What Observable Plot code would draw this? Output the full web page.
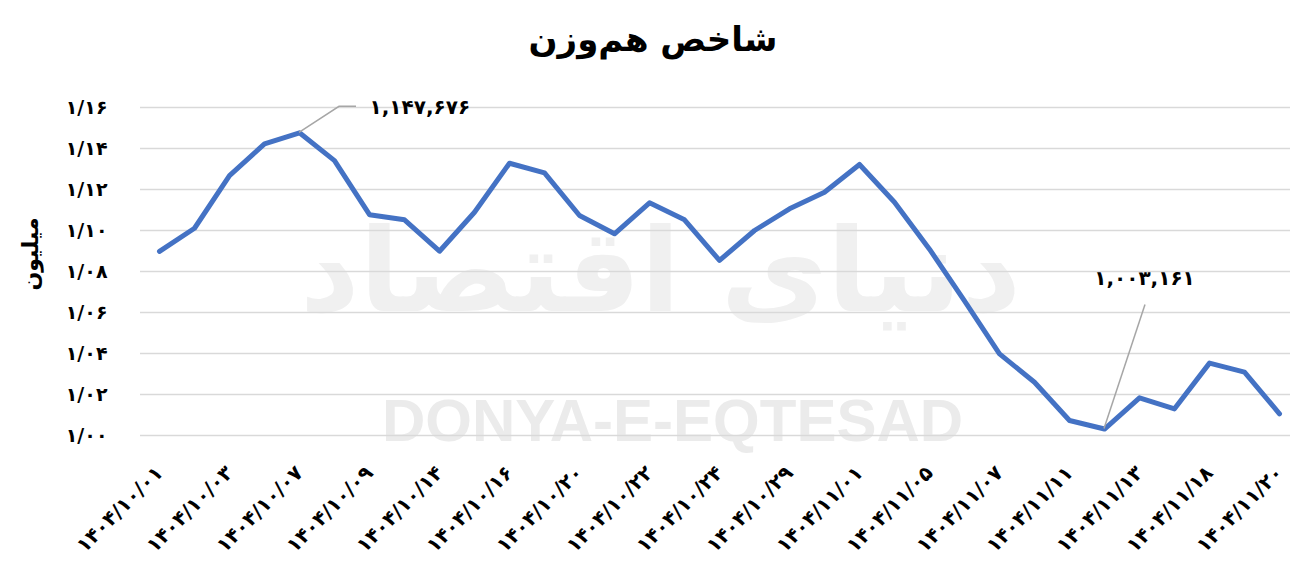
<!DOCTYPE html>
<html><head><meta charset="utf-8">
<script src="https://cdn.jsdelivr.net/npm/d3@7"></script>
<script src="https://cdn.jsdelivr.net/npm/@observablehq/plot@0.6"></script>
<style>
body{margin:0;background:#fff;width:1306px;height:574px;overflow:hidden;font-family:"DejaVu Sans",sans-serif;}
#title{height:80px;text-align:center;font-size:34px;font-weight:bold;line-height:78px;direction:rtl;color:#000}
#chart svg{display:block}
</style></head><body>
<div id="title">شاخص هم‌وزن</div>
<div id="chart"></div>
<script>
// trading days (every other one is labelled on the axis)
const dates = [
  "1404/10/01","1404/10/02","1404/10/03","1404/10/06","1404/10/07","1404/10/08","1404/10/09","1404/10/10",
  "1404/10/14","1404/10/15","1404/10/16","1404/10/17","1404/10/20","1404/10/21","1404/10/22","1404/10/23",
  "1404/10/24","1404/10/28","1404/10/29","1404/10/30","1404/11/01","1404/11/04","1404/11/05","1404/11/06",
  "1404/11/07","1404/11/08","1404/11/11","1404/11/12","1404/11/13","1404/11/14","1404/11/18","1404/11/19",
  "1404/11/20"
];
// equal-weight index, millions
const values = [
  1.0898, 1.1011, 1.1268, 1.1423, 1.147676, 1.1341, 1.1077, 1.1052,
  1.0899, 1.1089, 1.1328, 1.1281, 1.1073, 1.0984, 1.1135, 1.1052,
  1.0854, 1.1000, 1.1106, 1.1187, 1.1322, 1.1138, 1.0909, 1.0657,
  1.0398, 1.0260, 1.0073, 1.003161, 1.0184, 1.0130, 1.0353, 1.0309,
  1.0106
];
const xTickLabels = dates.filter((d, i) => i % 2 === 0);
const yTicks = [1.00, 1.02, 1.04, 1.06, 1.08, 1.10, 1.12, 1.14, 1.16];
const annotationDates = ["1404/10/07", "1404/11/12"];
const annotationTexts = ["1,147,676", "1,003,161"];
const yLabel = "میلیون";
const watermark = "DONYA-E-EQTESAD";
const watermarkFa = "دنیای اقتصاد";

const fa = s => String(s).replace(/\d/g, d => "۰۱۲۳۴۵۶۷۸۹"[d]);
const data = dates.map((d, i) => ({date: d, value: values[i]}));
const annotations = annotationDates.map((d, i) => ({date: d, value: values[dates.indexOf(d)], text: annotationTexts[i]}));

// leader line shapes relative to the annotated point (layout only)
const leaderShapes = [[[40, -26], [57, -26]], [[41, -124]]];

const leaderMark = (index, scales) => {
  const ns = "http://www.w3.org/2000/svg";
  const g = document.createElementNS(ns, "g");
  annotations.forEach((a, i) => {
    const x0 = scales.x(a.date), y0 = scales.y(a.value);
    const pts = [[x0, y0], ...leaderShapes[i].map(([dx, dy]) => [x0 + dx, y0 + dy])];
    const p = document.createElementNS(ns, "polyline");
    p.setAttribute("points", pts.map(q => q.join(",")).join(" "));
    p.setAttribute("fill", "none");
    p.setAttribute("stroke", "#a6a6a6");
    p.setAttribute("stroke-width", "1.5");
    g.appendChild(p);
  });
  return g;
};

const chart = Plot.plot({
  width: 1306,
  height: 494,
  marginTop: 27,
  marginBottom: 139,
  marginLeft: 140,
  marginRight: 16,
  style: {fontFamily: "'DejaVu Sans', sans-serif", fontWeight: "bold", color: "#000", background: "transparent"},
  x: {type: "point", domain: dates, padding: 0, insetLeft: 17, insetRight: 10},
  y: {domain: [1.00, 1.16]},
  marks: [
    Plot.text([watermarkFa], {frameAnchor: "middle", text: d => d, dx: -55, dy: 2, fontSize: 116, fill: "#f0f0f0", fontWeight: "bold"}),
    Plot.text([watermark], {frameAnchor: "bottom", text: d => d, dx: -43, dy: 5, fontSize: 60, fill: "#ebebeb", fontFamily: "'Liberation Sans', sans-serif", fontWeight: "bold"}),
    Plot.gridY(yTicks, {stroke: "#d9d9d9", strokeOpacity: 1, strokeWidth: 1.5}),
    Plot.axisY(yTicks, {tickSize: 0, tickPadding: 33, fontSize: 19, tickFormat: v => fa(v.toFixed(2).replace(".", "/")), label: null}),
    Plot.text([yLabel], {frameAnchor: "left", text: d => d, rotate: -90, dx: -110, dy: 19, fontSize: 22, fontWeight: "bold"}),
    Plot.axisX(xTickLabels, {tickSize: 0, tickPadding: 34, tickRotate: -45, fontSize: 20, tickFormat: fa, label: null}),
    Plot.line(data, {x: "date", y: "value", stroke: "#4472C4", strokeWidth: 5, strokeLinejoin: "round", strokeLinecap: "round"}),
    leaderMark,
    Plot.text(annotations.slice(0, 1), {x: "date", y: "value", text: d => fa(d.text), dx: 70, dy: -25, textAnchor: "start", fontSize: 20, fontWeight: "bold"}),
    Plot.text(annotations.slice(1), {x: "date", y: "value", text: d => fa(d.text), dx: 40, dy: -150, textAnchor: "middle", fontSize: 20, fontWeight: "bold"})
  ]
});
document.getElementById("chart").appendChild(chart);
</script>
</body></html>
